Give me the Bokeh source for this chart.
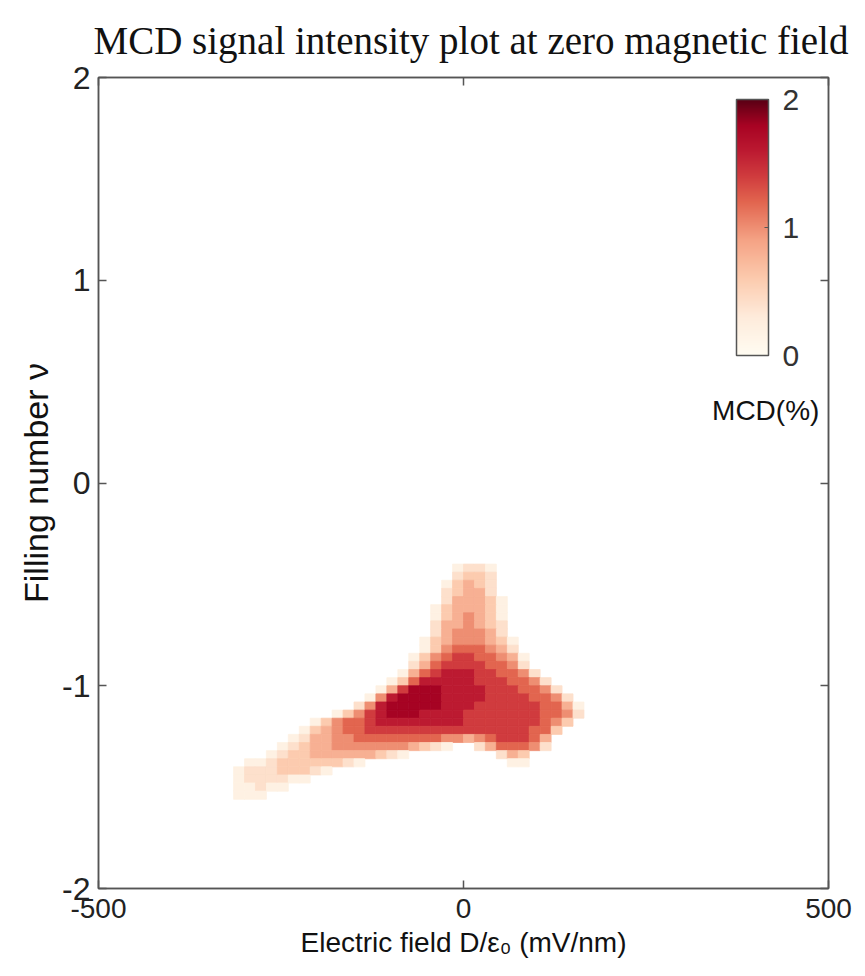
from bokeh.plotting import figure
from bokeh.models import (Range1d, LinearAxis, FixedTicker, LinearColorMapper,
                          ColorBar, Label, ColumnDataSource)
from bokeh.embed import file_html
from bokeh.resources import INLINE

# ---------------- data ----------------
# cell centres of the MCD map
d_centers = [-307.5, -292.5, -277.5, -262.5, -247.5, -232.5, -217.5, -202.5,
             -187.5, -172.5, -157.5, -142.5, -127.5, -112.5, -97.5, -82.5,
             -67.5, -52.5, -37.5, -22.5, -7.5, 7.5, 22.5, 37.5,
             52.5, 67.5, 82.5, 97.5, 112.5, 127.5, 142.5, 157.5]
nu_centers = [-0.42, -0.46, -0.50, -0.54, -0.58, -0.62, -0.66, -0.70,
              -0.74, -0.78, -0.82, -0.86, -0.90, -0.94, -0.98, -1.02,
              -1.06, -1.10, -1.14, -1.18, -1.22, -1.26, -1.30, -1.34,
              -1.38, -1.42, -1.46, -1.50, -1.54]
# MCD level per cell, one digit per cell (MCD % = digit * mcd_step), rows follow nu_centers
mcd_rows = [
    "00000000000000000000122100000000",
    "00000000000000000000233200000000",
    "00000000000000000001343200000000",
    "00000000000000000002344200000000",
    "00000000000000000002444310000000",
    "00000000000000000013444310000000",
    "00000000000000000013454310000000",
    "00000000000000000024454320000000",
    "00000000000000000024555420000000",
    "00000000000000000134555431000000",
    "00000000000000000135666542000000",
    "00000000000000001356776654100000",
    "00000000000000002467777665200000",
    "00000000000000014678887766520000",
    "00000000000000136888887776652000",
    "00000000000001479998888777665200",
    "00000000000015899998888777766520",
    "00000000000258999998887777776641",
    "00000000013578999888877777776652",
    "00000001356678888888877777776530",
    "00000013456677777777777777766300",
    "00000124455666666665545677764000",
    "00001234455555554321002466652000",
    "00012334444443210000000024300000",
    "01123333332100000000000001100000",
    "12223332100000000000000000000000",
    "12222110000000000000000000000000",
    "11211000000000000000000000000000",
    "11100000000000000000000000000000",
]
mcd_step = 0.2
x_ticks = [-500, 0, 500]
x_tick_labels = ["-500", "0", "500"]
y_ticks = [-2, -1, 0, 1, 2]
y_tick_labels = ["-2", "-1", "0", "1", "2"]
colorbar_ticks = [0, 1, 2]

# ---------------- colour map ----------------
stops = [(0.0, "#fffcf2"), (0.3, "#feebdb"), (0.6, "#fccbae"), (0.9, "#f5a385"),
         (1.2, "#e2654f"), (1.4, "#d03c3e"), (1.6, "#bc1a31"), (1.8, "#a80323"),
         (2.0, "#5a0014")]


def _rgb(h):
    return tuple(int(h[i:i + 2], 16) for i in (1, 3, 5))


palette = []
for k in range(256):
    t = 2.0 * k / 255
    for (a, ca), (b, cb) in zip(stops[:-1], stops[1:]):
        if a <= t <= b:
            f = (t - a) / (b - a)
            r0, g0, b0 = _rgb(ca)
            r1, g1, b1 = _rgb(cb)
            palette.append("#%02x%02x%02x" % (round(r0 + f * (r1 - r0)),
                                              round(g0 + f * (g1 - g0)),
                                              round(b0 + f * (b1 - b0))))
            break

mapper = LinearColorMapper(palette=palette, low=0, high=2)

xs, ys, vs = [], [], []
for r, row in enumerate(mcd_rows):
    row = row.ljust(len(d_centers), "0")[:len(d_centers)]
    for c, ch in enumerate(row):
        lev = int(ch)
        if lev > 0:
            xs.append(d_centers[c])
            ys.append(nu_centers[r])
            vs.append(lev * mcd_step)
src = ColumnDataSource(dict(x=xs, y=ys, v=vs))

# ---------------- figure ----------------
SANS = "Liberation Sans"
AX = "#555555"

p = figure(width=865, height=976, x_range=Range1d(-500, 500), y_range=Range1d(-2, 2),
           output_backend="svg", toolbar_location=None,
           min_border_left=98, min_border_right=37, min_border_top=75, min_border_bottom=88,
           title="MCD signal intensity plot at zero magnetic field")
p.title.text_font = "Liberation Serif"
p.title.text_font_size = "39px"
p.title.text_font_style = "normal"
p.title.text_color = "#111111"
p.title.align = "left"
p.title.offset = -5
p.title.standoff = 32
p.grid.visible = False
p.outline_line_color = AX
p.outline_line_width = 1.5
p.background_fill_color = "white"
p.border_fill_color = "white"

p.rect(x="x", y="y", width=15, height=0.04, source=src,
       fill_color={"field": "v", "transform": mapper},
       line_color={"field": "v", "transform": mapper}, line_width=0.8)


def style_axis(ax, ticks, labels, size="28px"):
    ax.ticker = FixedTicker(ticks=ticks)
    ax.major_tick_in = 8
    ax.major_tick_out = 0
    ax.minor_tick_line_color = None
    ax.axis_line_color = AX
    ax.axis_line_width = 1.5
    ax.major_tick_line_color = AX
    ax.major_tick_line_width = 1.5
    ax.major_label_text_font = SANS
    if labels is not None:
        ax.major_label_text_font_size = size
        ax.major_label_text_color = "#222222"
        ax.major_label_overrides = {t: s for t, s in zip(ticks, labels)}
    else:
        ax.major_label_text_font_size = "1px"
        ax.major_label_text_color = None
        ax.major_label_standoff = 0


style_axis(p.xaxis[0], x_ticks, x_tick_labels, "28px")
p.xaxis[0].major_label_standoff = 10
p.xaxis[0].axis_label = "Electric field D/\u03b5\u2080 (mV/nm)"
p.xaxis[0].axis_label_text_font = SANS
p.xaxis[0].axis_label_text_font_size = "28px"
p.xaxis[0].axis_label_text_font_style = "normal"
p.xaxis[0].axis_label_text_color = "#111111"
p.xaxis[0].axis_label_standoff = 6

style_axis(p.yaxis[0], y_ticks, y_tick_labels, "32px")
p.yaxis[0].major_label_standoff = 8
p.yaxis[0].axis_label = "Filling number \u03bd"
p.yaxis[0].axis_label_text_font = SANS
p.yaxis[0].axis_label_text_font_size = "34px"
p.yaxis[0].axis_label_text_font_style = "normal"
p.yaxis[0].axis_label_text_color = "#111111"
p.yaxis[0].axis_label_standoff = 4

top_axis = LinearAxis()
style_axis(top_axis, x_ticks, None)
p.add_layout(top_axis, "above")
right_axis = LinearAxis()
style_axis(right_axis, y_ticks, None)
p.add_layout(right_axis, "right")

cb = ColorBar(color_mapper=mapper, ticker=FixedTicker(ticks=colorbar_ticks),
              location=(638, 533), width=32, height=256, padding=0, margin=0,
              label_standoff=14,
              major_label_text_font=SANS, major_label_text_font_size="30px",
              major_label_text_color="#333333",
              major_tick_line_color=AX, major_tick_in=4, major_tick_out=0,
              minor_tick_line_color=None,
              bar_line_color=AX, bar_line_width=1.5,
              background_fill_alpha=0, border_line_color=None)
p.add_layout(cb)

p.add_layout(Label(x=414, y=0.36, text="MCD(%)", text_align="center", text_baseline="middle",
                   text_font=SANS, text_font_size="28px", text_color="#111111"))

open("out.html", "w").write(file_html(p, INLINE))
